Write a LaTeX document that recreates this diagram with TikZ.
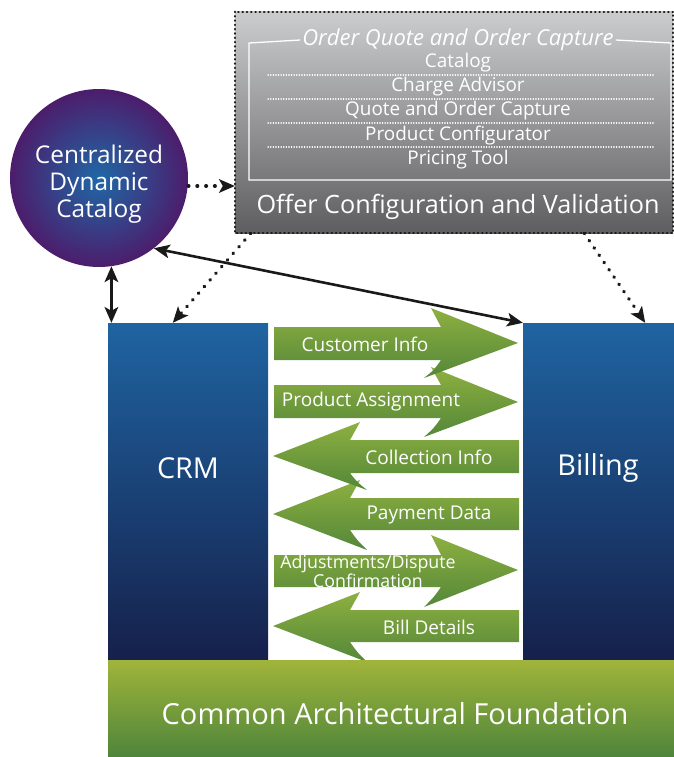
\documentclass[tikz,border=0pt]{standalone}
\usepackage{fontspec}
\setmainfont{Open Sans}
\usetikzlibrary{arrows.meta,shapes.geometric}
\definecolor{gtop}{HTML}{CBCCCE}
\definecolor{gbot}{HTML}{5E5E60}
\definecolor{btop}{HTML}{1F64A1}
\definecolor{bbot}{HTML}{16204B}
\definecolor{cin}{HTML}{1F68A6}
\definecolor{cout}{HTML}{4C1D6C}
\definecolor{ftop}{HTML}{A0B43A}
\definecolor{fbot}{HTML}{4E853B}
\definecolor{atop}{HTML}{8DB040}
\definecolor{abot}{HTML}{548739}
\tikzset{
  wtext/.style={text=white, inner sep=0pt, align=center},
  sysbox/.style={rectangle, draw=none, top color=btop, bottom color=bbot, inner sep=0pt},
  greenarrow/.style={top color=atop, bottom color=abot, draw=none},
  dotarrow/.style={black!90, line width=3.4pt, dash pattern=on 0.6pt off 8.2pt, line cap=round, -{Stealth[length=16pt,width=14pt,inset=4pt,line width=0pt]}},
  solidarrow/.style={black!90, line width=2.6pt, {Stealth[length=16pt,width=14pt,inset=4pt,line width=0pt]}-{Stealth[length=16pt,width=14pt,inset=4pt,line width=0pt]}},
  sepline/.style={white, line width=1.3pt, dash pattern=on 0.3pt off 2.3pt, line cap=round}
}
\begin{document}
\begin{tikzpicture}[x=1pt,y=-1pt]
\useasboundingbox (0,0) rectangle (674,757);
% offer configuration box
\node[rectangle, top color=gtop, bottom color=gbot, minimum width=438pt, minimum height=221pt, inner sep=0pt] (ocv) at (454,122.5) {};
\draw[black!90, line width=2.4pt, dash pattern=on 0.4pt off 3.9pt, line cap=round] (ocv.north west) rectangle (ocv.south east);
\node[wtext, font=\fontsize{22}{24}\selectfont\itshape, inner xsep=2pt] (oqt) at (458,40) {Order Quote and Order Capture};
\draw[white, line width=1.3pt] (oqt.west) -- (249,43) -- (249,180) -- (671,180) -- (671,43) -- (oqt.east);
\node[wtext, font=\fontsize{18.9}{20}\selectfont] (i1) at (458,63) {Catalog};
\node[wtext, font=\fontsize{18.9}{20}\selectfont] (i2) at (458,87) {Charge Advisor};
\node[wtext, font=\fontsize{18.9}{20}\selectfont] (i3) at (458,111) {Quote and Order Capture};
\node[wtext, font=\fontsize{18.9}{20}\selectfont] (i4) at (458,136) {Product Configurator};
\node[wtext, font=\fontsize{18.9}{20}\selectfont] (i5) at (458,160) {Pricing Tool};
\foreach \yy in {75,99,123,147} \draw[sepline] (268,\yy) -- (655,\yy);
\node[wtext, font=\fontsize{25.2}{26}\selectfont] (ocvt) at (458,207) {Offer Configuration and Validation};
% catalog circle
\node[circle, inner color=cin, outer color=cout, minimum size=178pt, inner sep=0pt] (cat) at (99,178) {};
\node[wtext, font=\fontsize{24.4}{27}\selectfont] (catt) at (99,184) {Centralized\\Dynamic\\Catalog};
% CRM and billing
\node[sysbox, minimum width=160pt, minimum height=337pt] (crm) at (188,491.5) {};
\node[wtext, font=\fontsize{28.8}{30}\selectfont] (crmt) at (188,468) {CRM};
\node[sysbox, minimum width=151pt, minimum height=337pt] (bill) at (598.5,491.5) {};
\node[wtext, font=\fontsize{28.8}{30}\selectfont] (billt) at (598,468) {Billing};
% green arrows (drawn bottom first)
\shade[greenarrow] (519,610) -- (350,610) .. controls (355,601) .. (360,592) -- (273,626) -- (367,662) .. controls (357,652) .. (350,642) -- (519,642) -- cycle;
\shade[greenarrow] (274,555) -- (441,555) .. controls (436,545) .. (431,535) -- (518,570) -- (424,607) .. controls (434,597) .. (441,587) -- (274,587) -- cycle;
\shade[greenarrow] (519,498) -- (350,498) .. controls (355,489) .. (360,480) -- (273,514) -- (367,550) .. controls (357,540) .. (350,530) -- (519,530) -- cycle;
\shade[greenarrow] (519,440) -- (350,440) .. controls (355,431) .. (360,422) -- (273,456) -- (367,490) .. controls (357,482) .. (350,473) -- (519,473) -- cycle;
\shade[greenarrow] (274,385) -- (441,385) .. controls (436,376) .. (431,367) -- (518,402) -- (424,437) .. controls (434,428) .. (441,418) -- (274,418) -- cycle;
\shade[greenarrow] (274,327) -- (441,327) .. controls (436,318) .. (431,308) -- (518,343) -- (424,378) .. controls (434,370) .. (441,360) -- (274,360) -- cycle;
\node[wtext, font=\fontsize{19}{20}\selectfont] (l1) at (365,344) {Customer Info};
\node[wtext, font=\fontsize{19}{20}\selectfont] (l2) at (371,402) {Product Assignment};
\node[wtext, font=\fontsize{19}{20}\selectfont] (l3) at (429,457) {Collection Info};
\node[wtext, font=\fontsize{19}{20}\selectfont] (l4) at (429,515) {Payment Data};
\node[wtext, font=\fontsize{17.8}{13.5}\selectfont] (l5) at (368,571) {Adjustments/Dispute\\Confirmation};
\node[wtext, font=\fontsize{19}{20}\selectfont] (l6) at (429,627) {Bill Details};
% foundation
\node[rectangle, top color=ftop, bottom color=fbot, minimum width=566pt, minimum height=97pt, inner sep=0pt] (found) at (391,708.5) {};
\node[wtext, font=\fontsize{29}{32}\selectfont] (foundt) at (395,714) {Common Architectural Foundation};
% connectors
\coordinate (ca) at ([yshift=-8pt]cat.east);
\draw[dotarrow] (ca) -- (ca -| ocv.west);
\draw[dotarrow] ([xshift=16pt]ocv.south west) -- ([xshift=65pt]crm.north west);
\draw[dotarrow] ([xshift=-89pt]ocv.south east) -- ([xshift=-29pt]bill.north east);
\draw[solidarrow] (cat.-82) -- (cat.-82 |- crm.north);
\draw[solidarrow] (cat.-52) -- (bill.north west);
\end{tikzpicture}
\end{document}
